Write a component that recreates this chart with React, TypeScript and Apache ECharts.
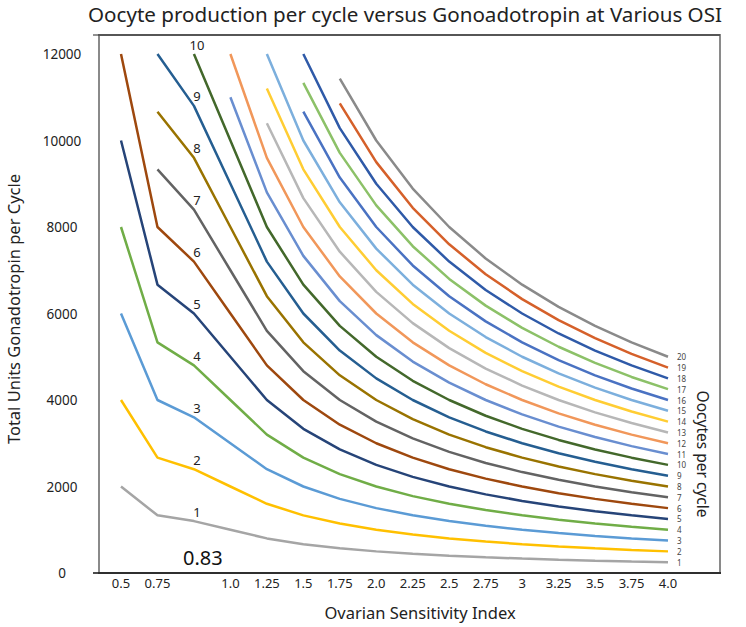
import React, { useEffect, useRef } from "react";
import * as echarts from "echarts";

const osiCategories = ["0.5", "0.75", "0.83", "1.0", "1.25", "1.5", "1.75", "2.0", "2.25", "2.5", "2.75", "3", "3.25", "3.5", "3.75", "4.0"];
const yTicks = { min: 0, max: 12000, interval: 2000 };

const oocytes1 = [2000, 1333, 1200, 1000, 800, 667, 571, 500, 444, 400, 364, 333, 308, 286, 267, 250];
const oocytes2 = [4000, 2667, 2400, 2000, 1600, 1333, 1143, 1000, 889, 800, 727, 667, 615, 571, 533, 500];
const oocytes3 = [6000, 4000, 3600, 3000, 2400, 2000, 1714, 1500, 1333, 1200, 1091, 1000, 923, 857, 800, 750];
const oocytes4 = [8000, 5333, 4800, 4000, 3200, 2667, 2286, 2000, 1778, 1600, 1455, 1333, 1231, 1143, 1067, 1000];
const oocytes5 = [10000, 6667, 6000, 5000, 4000, 3333, 2857, 2500, 2222, 2000, 1818, 1667, 1538, 1429, 1333, 1250];
const oocytes6 = [12000, 8000, 7200, 6000, 4800, 4000, 3429, 3000, 2667, 2400, 2182, 2000, 1846, 1714, 1600, 1500];
const oocytes7 = [null, 9333, 8400, 7000, 5600, 4667, 4000, 3500, 3111, 2800, 2545, 2333, 2154, 2000, 1867, 1750];
const oocytes8 = [null, 10667, 9600, 8000, 6400, 5333, 4571, 4000, 3556, 3200, 2909, 2667, 2462, 2286, 2133, 2000];
const oocytes9 = [null, 12000, 10800, 9000, 7200, 6000, 5143, 4500, 4000, 3600, 3273, 3000, 2769, 2571, 2400, 2250];
const oocytes10 = [null, null, 12000, 10000, 8000, 6667, 5714, 5000, 4444, 4000, 3636, 3333, 3077, 2857, 2667, 2500];
const oocytes11 = [null, null, null, 11000, 8800, 7333, 6286, 5500, 4889, 4400, 4000, 3667, 3385, 3143, 2933, 2750];
const oocytes12 = [null, null, null, 12000, 9600, 8000, 6857, 6000, 5333, 4800, 4364, 4000, 3692, 3429, 3200, 3000];
const oocytes13 = [null, null, null, null, 10400, 8667, 7429, 6500, 5778, 5200, 4727, 4333, 4000, 3714, 3467, 3250];
const oocytes14 = [null, null, null, null, 11200, 9333, 8000, 7000, 6222, 5600, 5091, 4667, 4308, 4000, 3733, 3500];
const oocytes15 = [null, null, null, null, 12000, 10000, 8571, 7500, 6667, 6000, 5455, 5000, 4615, 4286, 4000, 3750];
const oocytes16 = [null, null, null, null, null, 10667, 9143, 8000, 7111, 6400, 5818, 5333, 4923, 4571, 4267, 4000];
const oocytes17 = [null, null, null, null, null, 11333, 9714, 8500, 7556, 6800, 6182, 5667, 5231, 4857, 4533, 4250];
const oocytes18 = [null, null, null, null, null, 12000, 10286, 9000, 8000, 7200, 6545, 6000, 5538, 5143, 4800, 4500];
const oocytes19 = [null, null, null, null, null, null, 10857, 9500, 8444, 7600, 6909, 6333, 5846, 5429, 5067, 4750];
const oocytes20 = [null, null, null, null, null, null, 11429, 10000, 8889, 8000, 7273, 6667, 6154, 5714, 5333, 5000];

const seriesValues = [
  oocytes1, oocytes2, oocytes3, oocytes4, oocytes5, oocytes6, oocytes7, oocytes8, oocytes9, oocytes10,
  oocytes11, oocytes12, oocytes13, oocytes14, oocytes15, oocytes16, oocytes17, oocytes18, oocytes19, oocytes20,
];
const seriesNames = ["1", "2", "3", "4", "5", "6", "7", "8", "9", "10", "11", "12", "13", "14", "15", "16", "17", "18", "19", "20"];

const colors = [
  "#a5a5a5", "#ffc000", "#5b9bd5", "#70ad47", "#264478", "#9e480e", "#636363", "#997300", "#255e91", "#43682b",
  "#698ed0", "#f1975a", "#b7b7b7", "#ffcd33", "#7cafdd", "#4a72c2", "#8cc168", "#2f5aa8", "#d5602a", "#8a8a8a",
];

const FONT = "Noto Sans";

export default function App() {
  const ref = useRef<HTMLDivElement>(null);

  useEffect(() => {
    if (!ref.current) return;
    const chart = echarts.init(ref.current, null, { renderer: "svg" });

    const series = seriesValues.map((vals, i) => {
      const n = i + 1;
      const data = vals.map((v, j) => {
        if (v === null) return null;
        if (j === 2 && n <= 10) {
          return {
            value: v,
            label: {
              show: true,
              position: "top",
              distance: 3,
              offset: [3, 0],
              formatter: seriesNames[i],
              fontFamily: FONT,
              fontSize: 13,
              color: "#222",
            },
          };
        }
        if (j === vals.length - 1) {
          return {
            value: v,
            label: {
              show: true,
              position: "right",
              distance: 9,
              formatter: seriesNames[i],
              fontFamily: FONT,
              fontSize: 8,
              color: "#444",
            },
          };
        }
        return v;
      });
      return {
        name: seriesNames[i],
        type: "line",
        data,
        symbol: "circle",
        symbolSize: 0,
        showSymbol: true,
        showAllSymbol: true,
        connectNulls: false,
        silent: true,
        lineStyle: { width: 2.5, color: colors[i] },
        itemStyle: { color: colors[i] },
        label: { show: false },
        emphasis: { disabled: true },
        z: 2,
      };
    });

    chart.setOption({
      animation: false,
      backgroundColor: "#fff",
      title: {
        text: "Oocyte production per cycle versus Gonoadotropin at Various OSI",
        left: 88,
        top: 3,
        padding: 0,
        textStyle: { fontFamily: FONT, fontSize: 20.6, fontWeight: "normal", color: "#222" },
      },
      grid: { left: 121, right: 78, top: 54, bottom: 54 },
      xAxis: {
        type: "category",
        data: osiCategories,
        boundaryGap: false,
        axisLine: { show: false },
        axisTick: { show: false },
        splitLine: { show: false },
        axisLabel: {
          interval: 0,
          margin: 3,
          fontFamily: FONT,
          fontSize: 13,
          color: "#222",
          formatter: (v: string) => (v === "0.83" ? "" : v),
        },
      },
      yAxis: {
        type: "value",
        min: yTicks.min,
        max: yTicks.max,
        interval: yTicks.interval,
        axisLine: { show: false },
        axisTick: { show: false },
        splitLine: { show: false },
        axisLabel: {
          margin: 59,
          align: "center",
          fontFamily: FONT,
          fontSize: 13.5,
          color: "#222",
          formatter: (v: number) => String(v),
        },
      },
      series,
      graphic: [
        {
          type: "rect",
          shape: { x: 99, y: 35, width: 621, height: 538 },
          style: { fill: "none", stroke: "#8a8a8a", lineWidth: 2 },
          silent: true,
          z: 10,
        },
        {
          type: "polyline",
          shape: { points: [[93, 35], [720, 35]] },
          style: { fill: "none", stroke: "#222", lineWidth: 1 },
          silent: true,
          z: 11,
        },
        {
          type: "polyline",
          shape: { points: [[93, 573], [721, 573]] },
          style: { fill: "none", stroke: "#111", lineWidth: 1.5 },
          silent: true,
          z: 11,
        },
        {
          type: "text",
          left: 183,
          top: 547,
          style: { text: "0.83", fontFamily: FONT, fontSize: 20, fill: "#111" },
          z: 10,
        },
        {
          type: "text",
          x: 13,
          y: 309,
          rotation: Math.PI / 2,
          style: {
            text: "Total Units Gonadotropin per Cycle",
            fontFamily: FONT,
            fontSize: 16.5,
            fill: "#222",
            align: "center",
            verticalAlign: "middle",
          },
          z: 10,
        },
        {
          type: "text",
          x: 420,
          y: 612,
          style: {
            text: "Ovarian Sensitivity Index",
            fontFamily: FONT,
            fontSize: 16.5,
            fill: "#222",
            align: "center",
            verticalAlign: "middle",
          },
          z: 10,
        },
        {
          type: "text",
          x: 703,
          y: 454,
          rotation: -Math.PI / 2,
          style: {
            text: "Oocytes per cycle",
            fontFamily: FONT,
            fontSize: 15.5,
            fill: "#222",
            align: "center",
            verticalAlign: "middle",
          },
          z: 10,
        },
      ],
    });

    return () => chart.dispose();
  }, []);

  return <div ref={ref} style={{ position: "fixed", left: 0, top: 0, width: 746, height: 627 }} />;
}
